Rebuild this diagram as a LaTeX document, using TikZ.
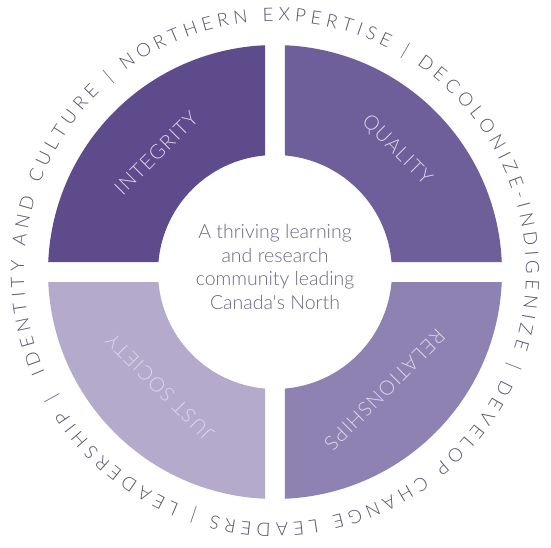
\documentclass[tikz,border=0pt]{standalone}
\usepackage{fontspec}
\setmainfont{Lato Light}
\newfontfamily\ringfont{Lato Light}
\newfontfamily\quadfont{Lato Light}[LetterSpace=6]
\usepackage{tikz}
\usetikzlibrary{decorations.text, positioning}
\definecolor{QuadOne}{HTML}{5E4B8B}
\definecolor{QuadTwo}{HTML}{6E5E99}
\definecolor{QuadThree}{HTML}{8D82B2}
\definecolor{QuadFour}{HTML}{B4AACB}
\definecolor{LabelLav}{HTML}{DDD6EE}
\definecolor{CoreText}{HTML}{6C6782}
\definecolor{RingText}{HTML}{55506B}
\tikzset{
  % quarters of the ring
  quad label/.style={font=\quadfont\fontsize{20}{22}\selectfont,text=LabelLav,inner sep=0pt},
  core text/.style={font=\fontsize{19.5}{23.5}\selectfont,text=CoreText,align=center,inner sep=0pt},
  % words round the circle
  ring words/.style={decorate,decoration={text along path,text format delimiters={[}{]},
    text align={fit to path},text color=RingText,text={#1}}}
}

\begin{document}
\begin{tikzpicture}[x=1pt,y=1pt]
    \useasboundingbox (-275,-275) rectangle (276,272);
    % four quarters, outer 227, inner 117, gap 10 each side
    \foreach \c/\col in {135/QuadOne,45/QuadTwo,-45/QuadThree,-135/QuadFour}{
      \fill[\col] ({\c-45+asin(10/227)}:227)
        arc[start angle={\c-45+asin(10/227)},end angle={\c+45-asin(10/227)},radius=227]
        -- ({\c+45-asin(10/117)}:117)
        arc[start angle={\c+45-asin(10/117)},end angle={\c-45+asin(10/117)},radius=117]
        -- cycle;
    }
    \node[quad label,rotate=45] (integrity) at (135:168) {INTEGRITY};
    \node[quad label,rotate=-45] (quality) at (45:172) {QUALITY};
    \node[quad label,rotate=-135] (relations) at (-47:161) {RELATIONSHIPS};
    \node[quad label,rotate=135] (justsoc) at (-135:163) {JUST SOCIETY};
    % centre
    \node[core text] (vision) at (0,5) {A thriving learning\\and research\\community leading\\Canada\textquotesingle s North};
    % outer ring
    \path[ring words={[\ringfont\fontsize{18.5}{20}\selectfont]IDENTITY AND CULTURE | NORTHERN EXPERTISE | DECOLONIZE-INDIGENIZE | DEVELOP CHANGE LEADERS | LEADERSHIP |}]
      (203.5:251) arc[start angle=203.5,end angle=-151,radius=251];
  \end{tikzpicture}
\end{document}
